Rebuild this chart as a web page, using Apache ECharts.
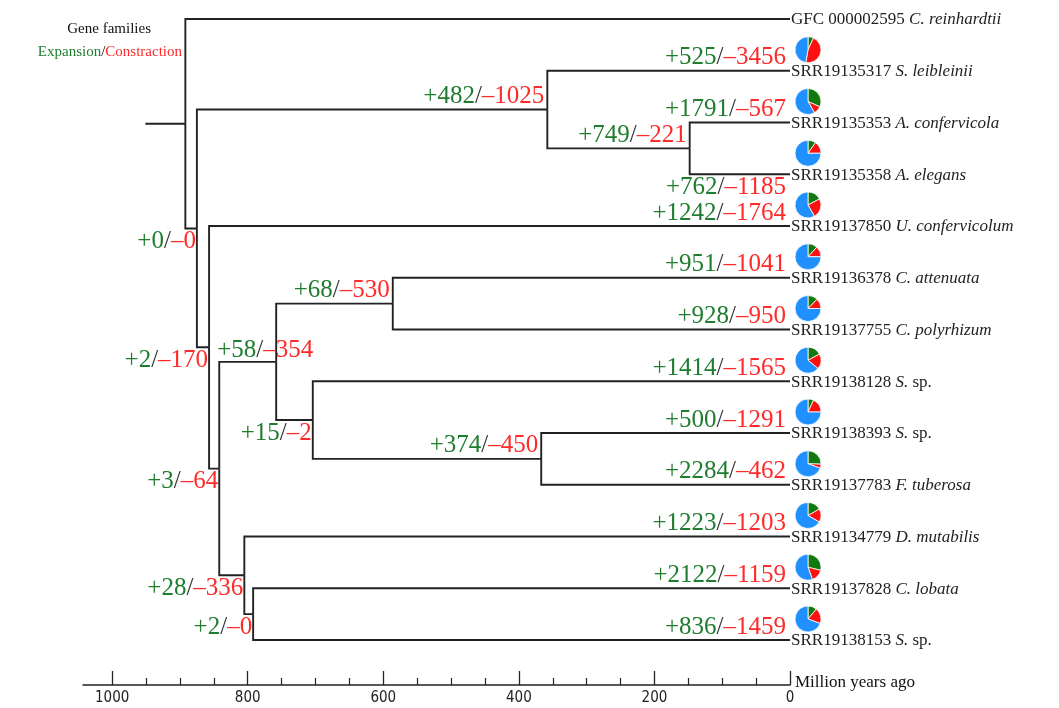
<!DOCTYPE html>
<html>
<head>
<meta charset="utf-8">
<script src="https://cdn.jsdelivr.net/npm/echarts@6/dist/echarts.min.js"></script>
<style>
  html, body { margin: 0; padding: 0; background: #fff; }
  #chart { width: 1059px; height: 708px; }
</style>
</head>
<body>
<div id="chart"></div>
<script>
// ---- Leaves (top to bottom) ----
const leafIds = ['GFC 000002595', 'SRR19135317', 'SRR19135353', 'SRR19135358', 'SRR19137850',
  'SRR19136378', 'SRR19137755', 'SRR19138128', 'SRR19138393', 'SRR19137783',
  'SRR19134779', 'SRR19137828', 'SRR19138153'];
const leafSpecies = ['C. reinhardtii', 'S. leibleinii', 'A. confervicola', 'A. elegans', 'U. confervicolum',
  'C. attenuata', 'C. polyrhizum', 'S. sp.', 'S. sp.', 'F. tuberosa',
  'D. mutabilis', 'C. lobata', 'S. sp.'];
const leafGain = [null, 525, 1791, 762, 1242, 951, 928, 1414, 500, 2284, 1223, 2122, 836];
const leafLoss = [null, 3456, 567, 1185, 1764, 1041, 950, 1565, 1291, 462, 1203, 1159, 1459];
// families neither expanded nor contracted (rest of each pie)
const leafStable = [null, 3570, 3300, 5840, 4200, 5980, 5630, 5270, 5370, 6220, 4850, 4100, 5200];

// ---- Internal nodes: age (million years ago), gain / loss, children ----
const nodeNames = ['root', 'A', 'I', 'J', 'B', 'C', 'D', 'F', 'G', 'H', 'E', 'E2'];
const nodeAges = [892, 875, 358, 148, 857, 842, 758, 586, 704, 367, 805, 792];
const nodeGain = [null, 0, 482, 749, 2, 3, 58, 68, 15, 374, 28, 2];
const nodeLoss = [null, 0, 1025, 221, 170, 64, 354, 530, 2, 450, 336, 0];
const nodeChildren = [['L0', 'A'], ['I', 'B'], ['L1', 'J'], ['L2', 'L3'], ['L4', 'C'], ['D', 'E'],
  ['F', 'G'], ['L5', 'L6'], ['L7', 'H'], ['L8', 'L9'], ['L10', 'E2'], ['L11', 'L12']];
const rootStubAge = 951;

// ---- Time axis ----
const axisMax = 1043;
const majorTicks = [0, 200, 400, 600, 800, 1000];
const minorTicks = [50, 100, 150, 250, 300, 350, 450, 500, 550, 650, 700, 750, 850, 900, 950];

// ---- Label placement relative to the branch ----
const labelPlacement = { A: 'below', B: 'below', C: 'below', G: 'below', E: 'below', E2: 'below', L3: 'below', D: 'aboveStart' };

const GREEN = '#1e7d2e', RED = '#ff2a2a', INK = '#222';
const PIE_GREEN = '#107a10', PIE_RED = '#ff1010', PIE_BLUE = '#2090ff';
const SERIF = '"Liberation Serif", "Times New Roman", serif';
const NUM_SIZE = 25;

// ---- Tree geometry from the topology ----
const parentOf = {};
nodeChildren.forEach((ch, i) => ch.forEach(c => { parentOf[c] = nodeNames[i]; }));
function ageOf(name) { return name[0] === 'L' ? 0 : nodeAges[nodeNames.indexOf(name)]; }
function yOf(name) {
  if (name[0] === 'L') return +name.slice(1);
  const ch = nodeChildren[nodeNames.indexOf(name)];
  return (yOf(ch[0]) + yOf(ch[1])) / 2;
}

const branchData = [];
nodeNames.forEach((n, i) => {
  const pa = ageOf(n), py = yOf(n);
  nodeChildren[i].forEach(c => {
    branchData.push({ coords: [[pa, py], [pa, yOf(c)], [ageOf(c), yOf(c)]] });
  });
});
branchData.push({ coords: [[rootStubAge, yOf('root')], [ageOf('root'), yOf('root')]] });

// gain / loss labels on each branch
const labelItems = [];
nodeNames.forEach((n, i) => {
  if (nodeGain[i] === null) return;
  labelItems.push({ name: n, age: ageOf(n), y: yOf(n), parentAge: ageOf(parentOf[n]), gain: nodeGain[i], loss: nodeLoss[i], leaf: false });
});
leafIds.forEach((id, i) => {
  if (leafGain[i] === null) return;
  const n = 'L' + i;
  labelItems.push({ name: n, age: 0, y: i, parentAge: ageOf(parentOf[n]), gain: leafGain[i], loss: leafLoss[i], leaf: true });
});

const numRich = {
  g: { fill: GREEN, fontSize: NUM_SIZE, fontFamily: SERIF },
  k: { fill: '#333', fontSize: NUM_SIZE, fontFamily: SERIF },
  r: { fill: RED, fontSize: NUM_SIZE, fontFamily: SERIF }
};

function renderGainLoss(params, api) {
  const d = labelItems[params.dataIndex];
  const p = api.coord([d.age, d.y]);
  const mode = labelPlacement[d.name] || 'above';
  let x, y, align = 'right';
  if (mode === 'below') {
    x = p[0] - (d.leaf ? 4 : 1); y = p[1] + 13;
  } else if (mode === 'aboveStart') {
    x = api.coord([d.parentAge, d.y])[0] - 2; y = p[1] - 11; align = 'left';
  } else {
    x = p[0] - (d.leaf ? 4 : 3); y = p[1] - 13;
  }
  return {
    type: 'text', x: x, y: y,
    style: {
      text: '{g|+' + d.gain + '}{k|/}{r|–' + d.loss + '}',
      rich: numRich, align: align, verticalAlign: 'middle',
      fontSize: NUM_SIZE, fontFamily: SERIF
    }
  };
}

function leafText(i) {
  const m = leafSpecies[i].match(/^(\S+\.)\s(sp\.)$/);
  const sp = m ? '{it|' + m[1] + '} {id|' + m[2] + '}' : '{it|' + leafSpecies[i] + '}';
  return '{id|' + leafIds[i] + '} ' + sp;
}
const leafRich = {
  id: { fill: INK, fontSize: 17, fontFamily: SERIF },
  it: { fill: INK, fontSize: 17, fontFamily: SERIF, fontStyle: 'italic' }
};
function renderLeafName(params, api) {
  const p = api.coord([0, params.dataIndex]);
  return {
    type: 'text', x: p[0] + 1, y: p[1] + 1,
    style: { text: leafText(params.dataIndex), rich: leafRich, align: 'left', verticalAlign: 'middle', fontSize: 17, fontFamily: SERIF, fill: INK }
  };
}

const chart = echarts.init(document.getElementById('chart'));

const baseSeries = [
  {
    type: 'lines', coordinateSystem: 'cartesian2d', polyline: true, silent: true,
    lineStyle: { color: INK, width: 1.9, opacity: 1 },
    data: branchData, z: 2
  },
  {
    type: 'custom', silent: true, z: 4,
    data: labelItems.map(d => [d.age, d.y]),
    renderItem: renderGainLoss
  },
  {
    type: 'custom', silent: true, z: 4,
    data: leafIds.map((id, i) => [0, i]),
    renderItem: renderLeafName
  }
];

chart.setOption({
  animation: false,
  grid: { left: 83, right: 269, top: 19, bottom: 68, outerBoundsMode: 'none' },
  xAxis: [
    {
      type: 'value', min: 0, max: axisMax, inverse: true, position: 'bottom', offset: 45,
      axisLine: { show: true, onZero: false, lineStyle: { color: INK, width: 1.5 } },
      axisTick: { show: true, inside: true, length: 14, customValues: majorTicks, lineStyle: { color: INK, width: 1.3 } },
      axisLabel: { show: true, customValues: majorTicks, color: INK, fontSize: 15, margin: 6,
        formatter: v => String(v),
        fontFamily: '"Liberation Sans Narrow", "DejaVu Sans Condensed", sans-serif' },
      splitLine: { show: false }
    },
    {
      type: 'value', min: 0, max: axisMax, inverse: true, position: 'bottom', offset: 45,
      axisLine: { show: false, onZero: false },
      axisTick: { show: true, inside: true, length: 7, customValues: minorTicks, lineStyle: { color: INK, width: 1.2 } },
      axisLabel: { show: false },
      splitLine: { show: false }
    }
  ],
  yAxis: { type: 'value', min: 0, max: 12, inverse: true, show: false },
  graphic: [
    { type: 'text', x: 151, y: 29, style: { text: 'Gene families', align: 'right', verticalAlign: 'middle', fontSize: 15, fontFamily: SERIF, fill: '#111' } },
    { type: 'text', x: 182, y: 52, style: {
        text: '{g|Expansion}{k|/}{r|Constraction}', align: 'right', verticalAlign: 'middle', fontSize: 15, fontFamily: SERIF,
        rich: { g: { fill: GREEN, fontSize: 15, fontFamily: SERIF }, k: { fill: '#111', fontSize: 15, fontFamily: SERIF }, r: { fill: RED, fontSize: 15, fontFamily: SERIF } } } },
    { type: 'text', x: 795, y: 683, style: { text: 'Million years ago', align: 'left', verticalAlign: 'middle', fontSize: 17, fontFamily: SERIF, fill: '#111' } }
  ],
  series: baseSeries
});

// small pies above each leaf name: expansion, contraction, unchanged
const pieSeries = [];
leafIds.forEach((id, i) => {
  if (leafGain[i] === null) return;
  const p = chart.convertToPixel({ gridIndex: 0 }, [0, i]);
  pieSeries.push({
    type: 'pie', silent: true, radius: 13, center: [p[0] + 18, p[1] - 21],
    startAngle: 90, clockwise: true, z: 5,
    label: { show: false }, labelLine: { show: false },
    itemStyle: { borderColor: '#fff', borderWidth: 0.8 },
    emphasis: { disabled: true },
    data: [
      { value: leafGain[i], itemStyle: { color: PIE_GREEN } },
      { value: leafLoss[i], itemStyle: { color: PIE_RED } },
      { value: leafStable[i], itemStyle: { color: PIE_BLUE } }
    ]
  });
});
chart.setOption({ series: baseSeries.concat(pieSeries) });
</script>
</body>
</html>
